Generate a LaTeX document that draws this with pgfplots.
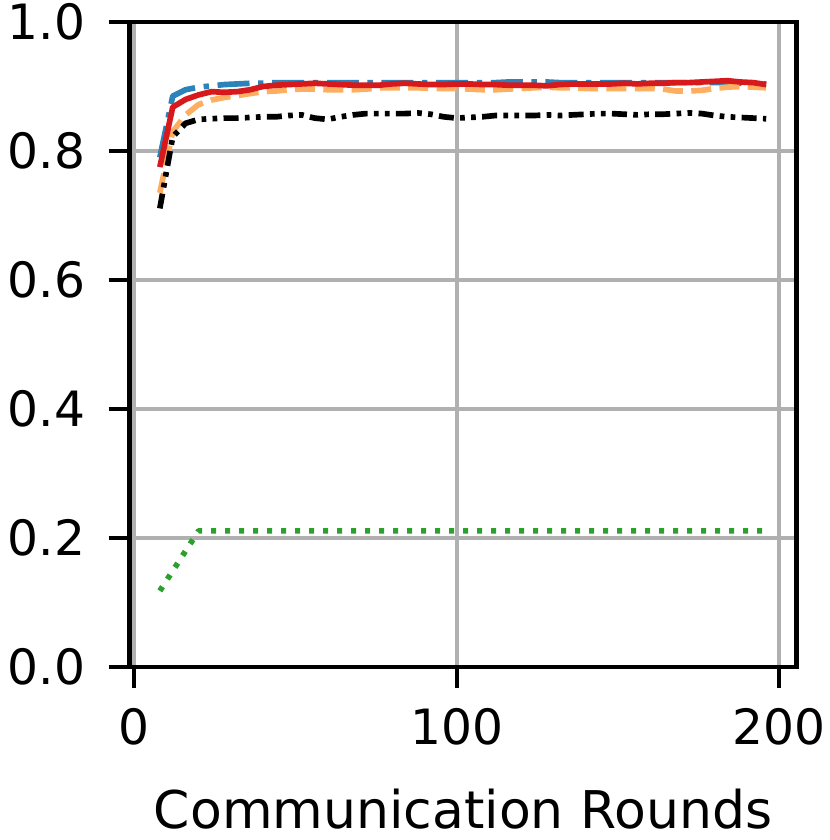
\documentclass[border=0pt]{standalone}
\usepackage{pgfplots}
\usepackage{pgfplotstable}
\pgfplotsset{compat=1.18}
\usepackage{fontspec}
\setmainfont{DejaVu Sans}

\definecolor{cblue}{HTML}{2B83BA}
\definecolor{corange}{HTML}{FDAE61}
\definecolor{cred}{HTML}{D7191C}
\definecolor{cgreen}{HTML}{2CA02C}
\definecolor{gridgray}{HTML}{B0B0B0}

% round, blue, orange, green, black, red
\pgfplotstableread{
x   blue   orange green  black  red
8   0.790  0.735  0.118  0.711  0.775
12  0.885  0.830  0.149  0.822  0.868
16  0.895  0.856  0.180  0.843  0.880
20  0.899  0.872  0.211  0.849  0.887
24  0.901  0.879  0.211  0.850  0.892
28  0.903  0.883  0.211  0.851  0.891
32  0.904  0.886  0.211  0.851  0.892
36  0.905  0.889  0.211  0.852  0.895
40  0.905  0.892  0.211  0.853  0.900
44  0.906  0.893  0.211  0.853  0.902
48  0.906  0.895  0.211  0.855  0.903
52  0.906  0.896  0.211  0.856  0.904
56  0.906  0.896  0.211  0.851  0.905
60  0.906  0.895  0.211  0.849  0.904
64  0.906  0.895  0.211  0.853  0.903
68  0.906  0.895  0.211  0.856  0.902
72  0.906  0.896  0.211  0.858  0.902
76  0.906  0.898  0.211  0.858  0.902
80  0.906  0.898  0.211  0.858  0.904
84  0.906  0.898  0.211  0.858  0.905
88  0.906  0.898  0.211  0.859  0.904
92  0.906  0.897  0.211  0.857  0.903
96  0.906  0.897  0.211  0.853  0.903
100 0.906  0.897  0.211  0.851  0.904
104 0.906  0.896  0.211  0.852  0.904
108 0.906  0.895  0.211  0.853  0.903
112 0.906  0.895  0.211  0.855  0.903
116 0.907  0.896  0.211  0.855  0.902
120 0.907  0.897  0.211  0.855  0.902
124 0.907  0.898  0.211  0.855  0.902
128 0.907  0.899  0.211  0.856  0.901
132 0.906  0.898  0.211  0.855  0.903
136 0.906  0.898  0.211  0.856  0.904
140 0.906  0.897  0.211  0.857  0.904
144 0.906  0.897  0.211  0.858  0.904
148 0.906  0.897  0.211  0.858  0.904
152 0.906  0.897  0.211  0.857  0.905
156 0.906  0.897  0.211  0.856  0.904
160 0.906  0.897  0.211  0.857  0.905
164 0.906  0.896  0.211  0.857  0.905
168 0.906  0.893  0.211  0.858  0.906
172 0.906  0.893  0.211  0.859  0.906
176 0.906  0.894  0.211  0.858  0.907
180 0.906  0.897  0.211  0.855  0.908
184 0.906  0.899  0.211  0.853  0.909
188 0.905  0.900  0.211  0.852  0.907
192 0.905  0.899  0.211  0.851  0.906
196 0.904  0.898  0.211  0.850  0.903
}\acc

\begin{document}
\begin{tikzpicture}
\begin{axis}[
  scale only axis,
  width=200.1pt, height=193.5pt,
  xmin=-1.4, xmax=205.4,
  ymin=0, ymax=1,
  xtick={0,100,200},
  ytick={0,0.2,0.4,0.6,0.8,1.0},
  tick pos=left,
  yticklabel style={/pgf/number format/fixed, /pgf/number format/fixed zerofill,
    /pgf/number format/precision=1, xshift=-3.4pt},
  /pgf/number format/assume math mode=true,
  tick label style={font=\fontsize{14.6}{17.5}\selectfont},
  xticklabel style={yshift=-2.6pt},
  xlabel={Communication Rounds},
  label style={font=\fontsize{15.6}{18.7}\selectfont},
  xlabel style={at={(axis description cs:0.5,0)}, anchor=base, yshift=-48.3pt},
  tick align=outside,
  major tick length=6.3pt,
  every tick/.style={black, line width=1.2pt},
  axis line style={line width=1.3pt},
  grid=major,
  major grid style={gridgray, line width=1.2pt},
  every axis plot/.append style={line width=1.7pt, line join=round},
]
\coordinate (sw) at (rel axis cs:0,0);
\coordinate (ne) at (rel axis cs:1,1);
\addplot[cblue, dash pattern=on 9.6pt off 2.6pt on 1.6pt off 2.6pt] table[x=x, y=blue] {\acc};
\addplot[corange, dash pattern=on 6pt off 2.5pt] table[x=x, y=orange] {\acc};
\addplot[cgreen, dash pattern=on 1.5pt off 2.7pt] table[x=x, y=green] {\acc};
\addplot[black, dash pattern=on 4.5pt off 1.9pt on 1.4pt off 1.9pt on 1.4pt off 1.9pt] table[x=x, y=black] {\acc};
\addplot[cred] table[x=x, y=red] {\acc};
\end{axis}
\pgfresetboundingbox
\path ([shift={(-38.85pt,-51.9pt)}]sw) rectangle ([shift={(9.9pt,6.6pt)}]ne);
\end{tikzpicture}
\end{document}
